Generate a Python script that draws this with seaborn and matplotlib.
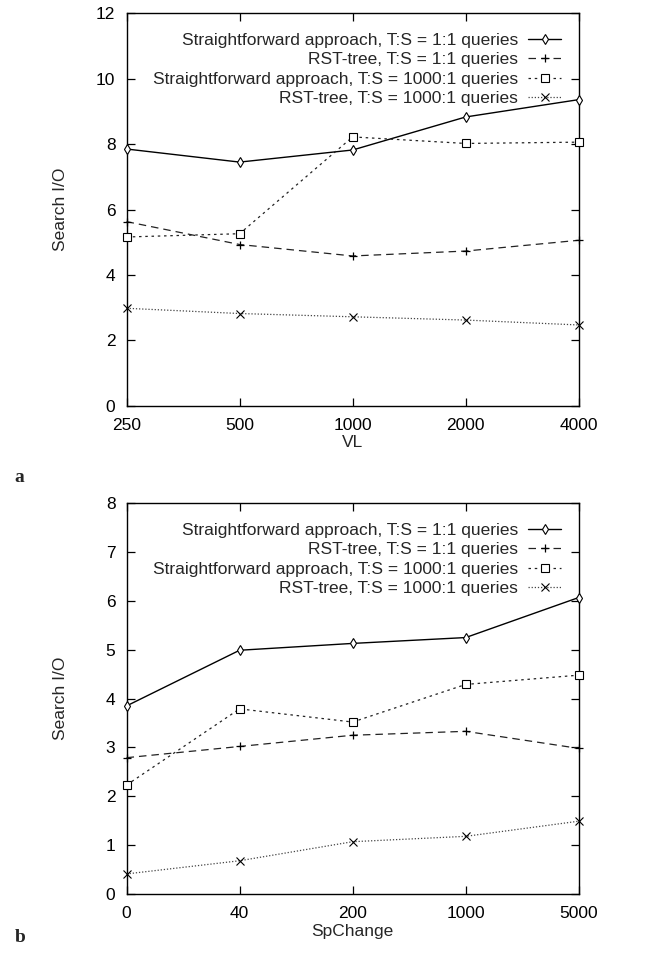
import numpy as np
import pandas as pd
import matplotlib
matplotlib.use("Agg")
import matplotlib.pyplot as plt
import seaborn as sns

sns.set_theme(style="ticks")
plt.rcParams['font.family'] = ['Liberation Sans', 'DejaVu Sans']

# ---- data ----
series_names = [
    "Straightforward approach, T:S = 1:1 queries",
    "RST-tree, T:S = 1:1 queries",
    "Straightforward approach, T:S = 1000:1 queries",
    "RST-tree, T:S = 1000:1 queries",
]

vl_labels = ["250", "500", "1000", "2000", "4000"]
a_sf_11 = [7.85, 7.45, 7.82, 8.83, 9.36]
a_rst_11 = [5.63, 4.93, 4.58, 4.73, 5.06]
a_sf_1000 = [5.16, 5.26, 8.22, 8.02, 8.06]
a_rst_1000 = [2.98, 2.82, 2.72, 2.62, 2.47]

sp_labels = ["0", "40", "200", "1000", "5000"]
b_sf_11 = [3.85, 4.99, 5.13, 5.25, 6.07]
b_rst_11 = [2.79, 3.02, 3.25, 3.33, 2.98]
b_sf_1000 = [2.23, 3.79, 3.52, 4.29, 4.48]
b_rst_1000 = [0.41, 0.68, 1.07, 1.18, 1.49]

styles = [
    dict(marker="d", linestyle="-", markersize=5, markerfacecolor="white",
         markeredgecolor="black", markeredgewidth=0.8, lw=1.0, color="black"),
    dict(marker="+", linestyle=(0, (6, 4)), markersize=6, markeredgecolor="black",
         markeredgewidth=0.9, lw=0.9, color="#222222"),
    dict(marker="s", linestyle=(0, (2, 3)), markersize=5.5, markerfacecolor="white",
         markeredgecolor="black", markeredgewidth=0.8, lw=0.9, color="#222222"),
    dict(marker="x", linestyle=(0, (1, 1.5)), markersize=5.5, markeredgecolor="black",
         markeredgewidth=0.8, lw=0.9, color="#444444"),
]

fig = plt.figure(figsize=(6.66, 9.77), dpi=100)
ax_a = fig.add_axes([0.190, 0.5847, 0.679, 0.4017])
ax_b = fig.add_axes([0.190, 0.0850, 0.679, 0.3999])


def draw(ax, labels, values, xlabel, ymax, ystep):
    xpos = np.arange(len(labels))
    for name, vals, st in zip(series_names, values, styles):
        df = pd.DataFrame({"x": xpos, "y": vals})
        sns.lineplot(data=df, x="x", y="y", ax=ax, label=name, clip_on=False,
                     zorder=3, **st)
    ax.set_xlim(0, len(labels) - 1)
    ax.set_ylim(0, ymax)
    ax.set_xticks(xpos)
    ax.set_xticklabels(labels)
    ax.set_yticks(np.arange(0, ymax + 0.001, ystep))
    ax.tick_params(direction="in", length=6, width=0.9, top=True, right=True,
                   labelsize=12.5, colors="black")
    ax.tick_params(axis="x", pad=9)
    ax.tick_params(axis="y", pad=8)
    for sp in ax.spines.values():
        sp.set_linewidth(1.0)
        sp.set_color("black")
    ax.set_xlabel(xlabel, fontsize=12.5, labelpad=1.5)
    ax.set_ylabel("Search I/O", fontsize=12.5)
    ax.yaxis.set_label_coords(-0.130, 0.5)
    ax.legend(loc="upper right", markerfirst=False, frameon=False,
              fontsize=12.5, handlelength=1.9, labelspacing=0.25,
              borderaxespad=0.0, handletextpad=0.6,
              bbox_to_anchor=(0.977, 0.968))


draw(ax_a, vl_labels, [a_sf_11, a_rst_11, a_sf_1000, a_rst_1000], "VL", 12, 2)
draw(ax_b, sp_labels, [b_sf_11, b_rst_11, b_sf_1000, b_rst_1000], "SpChange", 8, 1)

fig.text(0.022, 1 - 477 / 977, "a", fontsize=14, fontweight="bold",
         family=["Liberation Serif", "DejaVu Serif"], va="center", ha="left")
fig.text(0.022, 1 - 938 / 977, "b", fontsize=14, fontweight="bold",
         family=["Liberation Serif", "DejaVu Serif"], va="center", ha="left")

fig.savefig("out.png", dpi=100, facecolor="white")
